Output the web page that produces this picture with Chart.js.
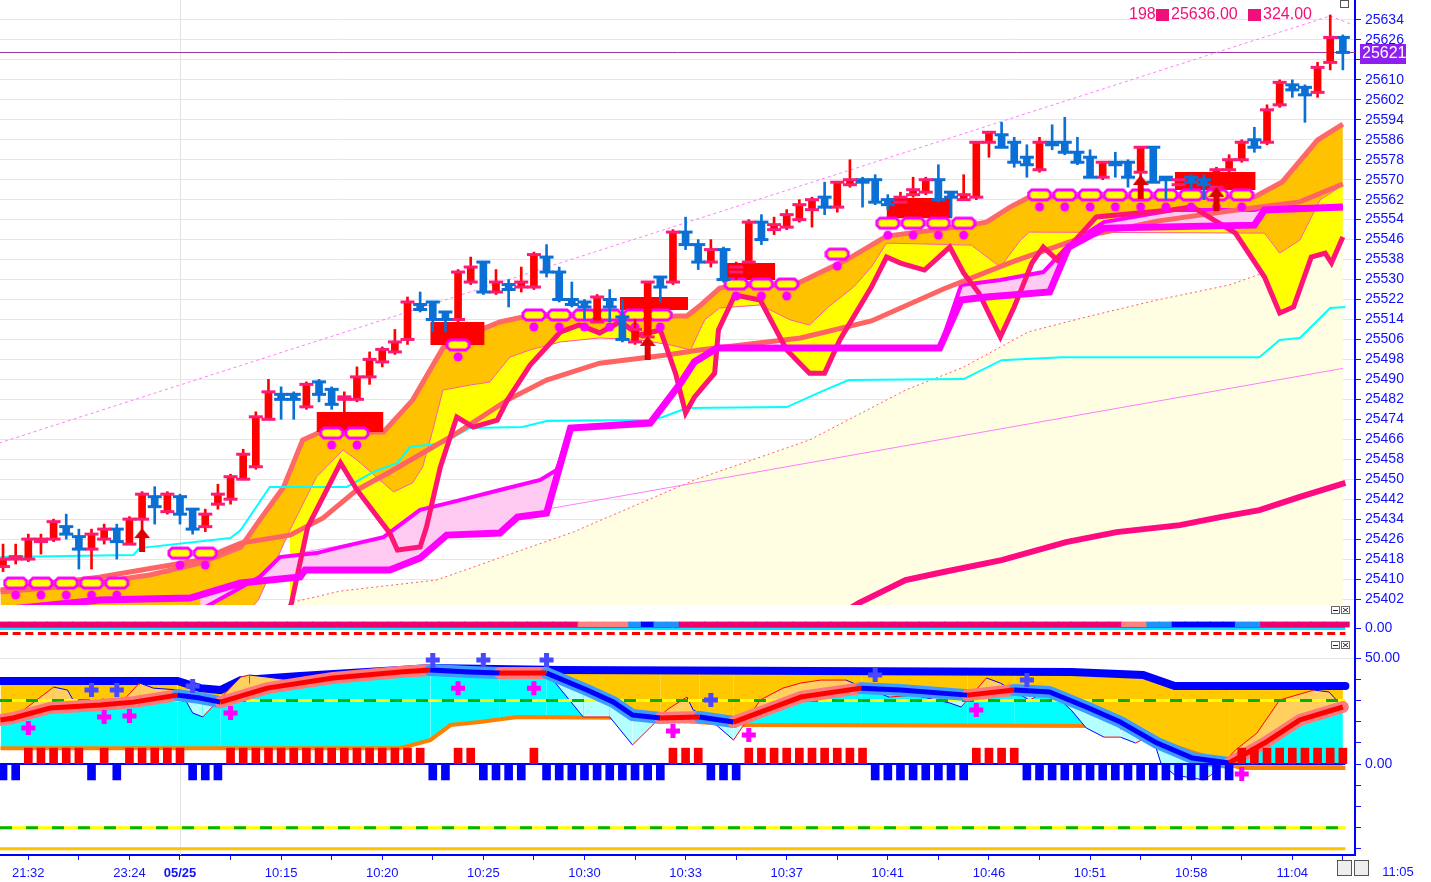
<!DOCTYPE html>
<html>
<head>
<meta charset="utf-8">
<title>Intraday chart</title>
<script src="https://cdn.jsdelivr.net/npm/chart.js@4.4.1/dist/chart.umd.min.js"></script>
<style>
  html, body { margin: 0; background: #fff; }
  #wrap { position: relative; width: 1431px; height: 882px; overflow: hidden; }
  #wrap canvas { position: absolute; left: 0; }
</style>
</head>
<body>
<div id="wrap">
  <canvas id="main" width="1431" height="605" style="top:0"></canvas>
  <canvas id="strip" width="1431" height="46" style="top:605px"></canvas>
  <canvas id="lower" width="1431" height="242" style="top:640px"></canvas>
</div>
<script>
/* ── candles (one per bar index) ───────────────────────── */
const candleOpen = [25415,25418,25418,25425,25426,25431,25427,25422,25426,25430,
  25424,25434,25443,25437,25443,25438,25431,25440,25442,25450,
  25455,25474,25484,25484,25479,25489,25486,25482,25482,25491,
  25497,25501,25506,25520,25521,25517,25514,25529,25537,25525,
  25528,25527,25527,25539,25533,25522,25521,25513,25522,25515,
  25505,25507,25531,25529,25549,25544,25537,25542,25533,25537,
  25553,25550,25551,25554,25558,25563,25559,25568,25570,25570,
  25562,25561,25564,25565,25570,25565,25562,25563,25585,25588,
  25585,25579,25574,25585,25585,25581,25579,25571,25577,25577,
  25573,25583,25571,25568,25571,25570,25567,25574,25578,25586,
  25585,25600,25608,25607,25605,25617,25627];
const candleHigh = [25424,25424,25428,25428,25434,25436,25430,25430,25432,25432,
  25435,25445,25447,25445,25444,25438,25438,25448,25452,25462,
  25477,25490,25487,25485,25489,25490,25487,25485,25495,25501,
  25503,25510,25523,25525,25521,25517,25534,25539,25537,25534,
  25530,25535,25541,25544,25535,25529,25522,25524,25526,25522,
  25514,25529,25531,25550,25555,25546,25546,25543,25537,25554,
  25556,25555,25558,25562,25563,25569,25569,25578,25571,25572,
  25564,25565,25571,25571,25576,25565,25572,25585,25589,25593,
  25587,25584,25587,25592,25595,25587,25582,25577,25581,25578,
  25583,25583,25571,25572,25572,25572,25575,25580,25586,25591,
  25600,25610,25610,25608,25617,25636,25628];
const candleLow = [25413,25416,25417,25420,25425,25426,25414,25414,25424,25418,
  25424,25428,25432,25436,25432,25428,25429,25438,25440,25450,
  25454,25474,25474,25474,25478,25481,25478,25473,25481,25488,
  25495,25500,25504,25517,25509,25509,25513,25528,25524,25524,
  25519,25525,25526,25531,25521,25519,25514,25513,25513,25505,
  25504,25506,25521,25528,25542,25534,25535,25529,25530,25536,
  25544,25548,25550,25553,25551,25556,25557,25567,25559,25560,
  25558,25559,25563,25564,25561,25555,25562,25562,25579,25583,
  25575,25571,25573,25582,25580,25576,25571,25570,25571,25567,
  25563,25569,25562,25566,25566,25562,25567,25573,25577,25581,
  25584,25599,25603,25593,25603,25614,25614];
const candleClose = [25418,25419,25426,25426,25433,25428,25422,25428,25430,25425,
  25434,25444,25439,25444,25436,25430,25436,25444,25451,25460,
  25475,25485,25482,25482,25488,25484,25480,25483,25491,25498,
  25502,25505,25521,25518,25514,25514,25533,25535,25525,25529,
  25526,25529,25540,25533,25522,25520,25519,25523,25519,25506,
  25510,25529,25527,25549,25544,25537,25542,25530,25535,25553,
  25546,25552,25556,25560,25562,25559,25569,25570,25569,25561,
  25560,25563,25566,25570,25562,25563,25564,25585,25589,25583,
  25577,25576,25585,25584,25581,25577,25571,25577,25576,25571,
  25583,25569,25570,25570,25569,25568,25574,25578,25585,25583,
  25598,25609,25606,25604,25615,25627,25621];

/* ── axis ticks ────────────────────────────────────────── */
const yTicks = [25402,25410,25418,25426,25434,25442,25450,25458,25466,25474,25482,25490,25498,25506,25514,
  25522,25530,25538,25546,25554,25562,25570,25578,25586,25594,25602,25610,25618,25626,25634];
const lowTicks = [-40,-30,-20,-10,0,10,20,30,40,50];
const lowLabels = [0, 50];
const xTickPos = [2,6,10,14,18,22,26,30,34,38,42,46,50,54,58,62,66,70,74,78,82,86,90,94,98,102,106];
const xTickText = { 2:'21:32', 10:'23:24', 14:'05/25', 22:'10:15', 30:'10:20', 38:'10:25', 46:'10:30',
  54:'10:33', 62:'10:37', 70:'10:41', 78:'10:46', 86:'10:51', 94:'10:58', 102:'11:04' };
const dayIndex = 14;
const headCount = 198, headVolume = 324;

/* ── overlay lines, [bar index, price] ─────────────────── */
const trendLine = [[-0.3,25464.5],[105.0,25635.6],[106.8,25632.0]];
const violetLine = [[-0.3,25399.2],[106.0,25494.4]];
const dotRedLine = [[21.1,25396.8],[23.0,25400.8],[26.7,25405.2],[34.3,25409.6],[39.9,25419.6],[45.1,25428.8],
  [54.7,25449.7],[63.8,25465.7],[71.4,25485.7],[76.0,25494.9],[81.1,25509.0],[85.7,25515.0],[91.3,25521.8],
  [97.0,25527.8],[102.6,25537.8],[106.0,25545.0]];
const cyanLine = [[-0.2,25418.8],[5.1,25419.2],[10.3,25419.6],[10.8,25422.4],[18.0,25426.4],[18.8,25429.6],
  [21.1,25446.9],[27.2,25446.9],[29.3,25452.9],[31.2,25456.5],[32.2,25462.9],[34.8,25464.5],[36.9,25470.5],
  [41.1,25470.9],[43.0,25473.3],[51.2,25473.7],[52.2,25474.9],[54.1,25478.5],[62.0,25478.9],[65.0,25485.7],
  [66.9,25489.7],[76.0,25490.1],[79.0,25497.7],[83.8,25498.9],[99.4,25498.9],[101.0,25505.8],[102.6,25506.6],
  [105.0,25518.6],[106.2,25519.0]];
const deepLine = [[66.2,25395.6],[67.7,25400.4],[71.4,25409.6],[74.4,25412.8],[79.0,25417.6],[84.1,25424.8],
  [88.1,25428.8],[93.1,25431.6],[96.3,25434.8],[99.4,25437.6],[102.6,25442.9],[106.2,25448.5]];
const maLine = [[-0.2,25405.6],[7.7,25410.8],[15.6,25417.6],[18.8,25424.4],[22.7,25427.6],[25.3,25434.4],
  [28.0,25445.7],[30.6,25452.9],[33.2,25460.5],[35.9,25468.5],[39.9,25481.7],[43.0,25489.7],[47.2,25496.5],
  [52.5,25499.8],[55.1,25501.8],[63.1,25506.6],[68.7,25513.4],[74.4,25526.2],[80.0,25537.4],[85.7,25547.4],
  [91.3,25553.4],[97.0,25557.5],[102.6,25561.1],[106.0,25568.3]];
const cloudTop = [[-0.2,25404.8],[6.1,25407.6],[11.6,25411.6],[15.6,25416.4],[18.8,25422.8],[20.3,25433.6],
  [22.2,25446.9],[23.7,25465.7],[25.1,25468.9],[30.1,25468.9],[32.4,25481.7],[34.8,25502.6],[36.2,25506.6],
  [39.3,25513.0],[41.5,25515.4],[54.1,25515.4],[55.1,25519.4],[56.7,25526.6],[58.1,25527.8],[62.3,25527.8],
  [63.1,25529.0],[66.7,25537.8],[69.9,25547.4],[76.0,25551.4],[77.8,25553.0],[79.7,25559.1],[81.2,25563.1],
  [99.0,25563.1],[101.2,25569.1],[104.0,25585.9],[106.0,25592.3]];
const cloudMid = [[-0.2,25397.6],[19.5,25397.6],[20.2,25401.6],[22.7,25429.6],[24.8,25450.9],[26.9,25461.7],
  [28.0,25457.7],[29.8,25449.7],[30.9,25444.9],[32.4,25448.5],[33.2,25454.9],[34.0,25469.7],[34.8,25485.7],
  [36.9,25487.7],[38.5,25488.9],[40.1,25498.9],[41.7,25501.8],[44.1,25505.0],[47.2,25506.6],[50.4,25505.8],
  [52.8,25503.8],[54.4,25501.8],[55.5,25513.8],[56.7,25518.6],[59.9,25519.8],[62.3,25513.8],[63.8,25511.8],
  [65.3,25519.0],[67.3,25527.0],[68.7,25535.0],[69.9,25544.6],[76.6,25543.8],[78.9,25535.0],[80.5,25545.8],
  [81.2,25549.0],[99.8,25548.6],[101.0,25540.6],[102.6,25545.8],[104.2,25561.9],[106.0,25567.9]];
const zigLine = [[22.7,25397.6],[24.1,25430.8],[26.7,25456.5],[28.0,25445.7],[30.6,25428.4],[31.2,25421.6],
  [33.0,25422.8],[33.5,25430.8],[34.6,25454.9],[35.9,25474.9],[37.2,25470.9],[39.1,25473.7],[39.9,25481.7],
  [41.7,25495.7],[44.1,25509.0],[45.6,25511.8],[47.2,25508.6],[48.8,25513.0],[50.4,25507.8],[52.0,25509.8],
  [53.2,25492.5],[54.0,25476.5],[54.7,25482.9],[56.3,25492.5],[56.6,25509.8],[57.9,25523.8],[59.9,25521.8],
  [62.0,25501.8],[63.8,25492.5],[65.0,25492.5],[66.2,25505.8],[68.7,25527.0],[69.9,25539.0],[71.0,25536.6],
  [72.9,25533.8],[74.9,25543.0],[76.0,25532.6],[77.2,25524.6],[78.9,25507.0],[80.0,25519.0],[81.4,25536.6],
  [82.3,25543.0],[83.4,25537.8],[86.5,25555.1],[92.4,25557.9],[94.1,25559.1],[97.5,25548.6],[99.8,25531.0],
  [101.0,25516.6],[102.1,25519.0],[103.5,25539.0],[104.6,25540.6],[105.1,25536.6],[106.0,25547.0]];
const kijunLine = [[-0.2,25397.6],[7.7,25401.6],[14.8,25402.4],[18.8,25408.4],[23.5,25410.8],[23.9,25413.6],
  [30.6,25413.6],[33.0,25418.4],[35.1,25427.6],[39.3,25428.4],[40.7,25434.8],[43.0,25436.4],[44.9,25470.5],
  [51.2,25472.5],[53.6,25488.5],[54.7,25497.0],[56.5,25502.6],[74.1,25502.6],[75.8,25521.8],[77.8,25523.0],
  [82.8,25525.0],[84.3,25543.0],[87.1,25550.6],[99.0,25551.8],[99.8,25557.9],[106.0,25559.1]];
const senkouLine = [[15.6,25397.6],[20.3,25410.8],[21.9,25418.8],[24.8,25420.4],[26.7,25422.8],[30.1,25426.8],
  [33.0,25437.7],[35.6,25440.9],[39.3,25445.7],[42.5,25449.7],[43.8,25453.7],[44.9,25470.5],[51.2,25472.5],
  [53.6,25488.5],[54.7,25497.0],[56.5,25502.6],[74.1,25502.6],[75.8,25527.8],[78.9,25529.8],[82.3,25533.0],
  [84.3,25543.8],[87.1,25553.0],[92.7,25557.9],[99.0,25557.9],[99.8,25559.1],[106.0,25559.1]];

/* zones: [from bar, to bar, low, high] */
const boxZones = [[24.8,30.1,25468.9,25476.9],[33.8,38.1,25503.8,25513.0],[48.8,54.2,25517.8,25523.0],
  [57.1,61.1,25529.8,25536.6],[69.9,75.1,25554.6,25562.7],[92.7,99.1,25565.9,25573.1]];
const ovalMarks = [[1,25408.4],[3,25408.4],[5,25408.4],[7,25408.4],[9,25408.4],[14,25420.4],[16,25420.4],
  [26,25468.5],[28,25468.5],[36,25503.8],[42,25515.8],[44,25515.8],[46,25515.8],[48,25515.8],[50,25515.8],
  [52,25515.8],[58,25528.2],[60,25528.2],[62,25528.2],[66,25540.2],[70,25552.6],[72,25552.6],[74,25552.6],
  [76,25552.6],[82,25563.9],[84,25563.9],[86,25563.9],[88,25563.9],[90,25563.9],[92,25563.9],[94,25563.9],
  [96,25563.9],[98,25563.9]];
const arrowMarks = [[11,25425.6],[51,25502.6],[90,25567.1],[96,25562.3]];

/* ── middle strip ──────────────────────────────────────── */
const stripRuns = [['P',46],['S',4],['L',1],['D',1],['L',2],['P',35],['S',2],['L',2],['D',5],['L',2],['P',7]];

/* ── lower oscillator ─────────────────────────────────── */
const upperBand = [[-0.2,39.2],[13.8,39.2],[15.6,35.8],[17.2,34.9],[18.8,39.6],[23.5,41.5],[31.4,44.3],
  [33.8,45.3],[44.1,44.3],[84.5,43.4],[90.2,42.0],[92.7,36.8],[106.2,36.8]];
const signalLine = [[-0.2,20.8],[0.8,21.7],[3.7,26.4],[7.7,27.8],[10.3,29.2],[13.8,32.5],[15.6,31.1],[17.2,29.2],
  [20.9,35.8],[26.1,40.6],[31.4,43.4],[33.8,44.3],[36.9,43.4],[39.3,42.9],[43.0,42.9],[46.2,34.9],[48.3,29.2],
  [49.8,23.1],[52.0,21.7],[55.1,22.2],[57.8,19.8],[63.1,31.6],[67.9,35.8],[71.0,34.9],[76.3,32.5],[80.0,34.9],
  [82.8,34.0],[85.7,26.9],[88.4,19.8],[91.3,9.9],[94.1,2.8],[97.0,0.5],[99.8,9.9],[102.6,20.8],[106.0,26.9]];
const fastLine = [[-0.2,19.8],[0.8,21.7],[4.0,36.3],[5.1,34.9],[5.9,26.4],[6.9,25.9],[7.9,30.7],[9.0,26.9],
  [10.8,38.2],[11.9,35.8],[14.0,34.9],[15.0,24.1],[15.8,22.2],[18.8,41.0],[19.5,42.0],[20.9,41.0],[22.7,39.6],
  [24.8,42.0],[26.1,41.0],[28.8,43.4],[31.4,44.3],[34.0,45.3],[36.7,45.8],[37.5,45.3],[39.3,42.0],[41.5,42.0],
  [43.0,43.4],[45.9,22.2],[48.0,22.2],[49.8,9.0],[51.4,18.4],[52.5,25.5],[54.1,31.6],[54.6,25.5],[55.7,22.2],
  [57.8,11.3],[59.9,30.2],[61.7,35.8],[63.1,38.2],[64.7,39.6],[66.7,39.6],[67.6,37.3],[70.1,31.6],[72.1,32.5],
  [74.9,28.8],[75.8,26.9],[77.8,40.6],[78.9,38.2],[81.2,30.2],[82.8,34.9],[84.5,25.5],[85.7,17.0],[87.1,12.7],
  [88.4,12.7],[89.6,9.9],[90.4,12.3],[91.1,9.9],[91.6,0.5],[92.7,-5.2],[95.0,-7.5],[95.8,-4.2],[97.5,6.6],
  [99.2,14.6],[101.0,30.2],[103.7,34.9],[104.9,34.0],[106.0,26.9]];
const baseLine = [[-0.2,7.5],[31.4,7.5],[33.8,11.3],[35.4,18.4],[37.7,19.8],[40.7,22.2],[50.4,21.7],[58.3,18.4],
  [87.9,17.9],[97.9,-1.9],[106.2,-1.9]];
const levelLines = [30, -30];
const floorLevel = -40;
const histRuns = [[-1,2],[1,5],[-1,1],[1,1],[-1,1],[1,5],[-1,3],[1,16],[-1,2],[1,2],[-1,4],[1,1],[-1,10],
  [1,3],[-1,3],[1,10],[-1,8],[1,4],[-1,17],[1,9]];
const histLevel = 7.5;
const buyMarks = [[2,17.0],[8,22.2],[10,22.6],[18,24.1],[36,35.8],[42,35.8],[53,15.6],[59,13.7],[77,25.5],[98,-4.7]];
const sellMarks = [[7,34.9],[9,34.9],[15,36.8],[34,49.1],[38,49.1],[43,49.1],[56,30.2],[69,42.0],[81,39.6]];

/* ── helpers ───────────────────────────────────────────── */
Chart.defaults.font.family = '"Liberation Sans", Arial, sans-serif';
const xMin = -0.24, xMax = 106.96;
const xEnd = 106.2;
const AXIS = '#1010ff';
const C_RED = '#ff0000', C_BLUE = '#0a70d6';
const bars = candleOpen.map((_, i) => i);
const isUp = i => candleClose[i] >= candleOpen[i];
const pts = a => a.map(([x, y]) => ({ x, y }));
const byDir = (up, down) => c => c.p1.parsed.y >= c.p0.parsed.y ? up : down;
const line = (data, o) => Object.assign({ type: 'line', data: pts(data), pointRadius: 0, borderWidth: 1,
  tension: 0, fill: false }, o);
const flat = (v, o) => line([[xMin, v], [xEnd, v]], o);

function ovalImage() {
  const c = document.createElement('canvas');
  c.width = 26; c.height = 36;
  const g = c.getContext('2d');
  const oct = (cx, cy, w, h, k) => {
    g.beginPath();
    g.moveTo(cx - w / 2 + k, cy - h / 2); g.lineTo(cx + w / 2 - k, cy - h / 2);
    g.lineTo(cx + w / 2, cy - h / 2 + k); g.lineTo(cx + w / 2, cy + h / 2 - k);
    g.lineTo(cx + w / 2 - k, cy + h / 2); g.lineTo(cx - w / 2 + k, cy + h / 2);
    g.lineTo(cx - w / 2, cy + h / 2 - k); g.lineTo(cx - w / 2, cy - h / 2 + k);
    g.closePath();
  };
  g.fillStyle = '#ff00ff'; oct(13, 18, 25, 13, 4); g.fill();
  g.fillStyle = '#ffff00'; oct(13, 18, 19, 7, 2); g.fill();
  g.beginPath(); g.arc(13, 30, 4.5, 0, Math.PI * 2); g.fillStyle = '#ff00ff'; g.fill();
  return c;
}
function arrowImage() {
  const c = document.createElement('canvas');
  c.width = 16; c.height = 24;
  const g = c.getContext('2d');
  g.fillStyle = '#dd0000';
  g.beginPath(); g.moveTo(0, 10); g.lineTo(8, 0); g.lineTo(16, 10); g.closePath(); g.fill();
  g.fillRect(5, 10, 6, 14);
  return c;
}
function icon(ctx, x, y, glyph) {
  ctx.fillStyle = '#fff'; ctx.fillRect(x, y, 9, 8);
  ctx.strokeStyle = '#666'; ctx.lineWidth = 1; ctx.strokeRect(x + 0.5, y + 0.5, 8, 7);
  ctx.strokeStyle = '#222'; ctx.beginPath();
  if (glyph === '-') { ctx.moveTo(x + 2, y + 4.5); ctx.lineTo(x + 7, y + 4.5); }
  else { ctx.moveTo(x + 2, y + 2); ctx.lineTo(x + 7, y + 6); ctx.moveTo(x + 7, y + 2); ctx.lineTo(x + 2, y + 6); }
  ctx.stroke();
}
const dayLine = {
  id: 'dayLine',
  beforeDatasetsDraw(chart) {
    const { ctx, chartArea: a, scales: { x } } = chart;
    const px = Math.round(x.getPixelForValue(dayIndex)) + 0.5;
    ctx.save();
    ctx.strokeStyle = '#e2e2e2'; ctx.lineWidth = 1;
    ctx.beginPath(); ctx.moveTo(px, a.top); ctx.lineTo(px, a.bottom); ctx.stroke();
    ctx.restore();
  }
};
const rightAxis = (min, max, ticks, label, grid) => ({
  position: 'right', min, max, beginAtZero: false,
  afterBuildTicks: s => { s.ticks = ticks.map(v => ({ value: v })); },
  afterFit: s => { s.width = 76; s.paddingTop = 0; s.paddingBottom = 0; },
  ticks: { color: AXIS, padding: 4, font: { size: 14 }, callback: label },
  grid: { color: grid, tickColor: AXIS, tickLength: 6 },
  border: { color: '#0000ff', width: 2 }
});
const hiddenX = { type: 'linear', min: xMin, max: xMax, offset: false, grid: { offset: false }, display: false };
const base = { responsive: false, devicePixelRatio: 1, animation: false, events: [],
  layout: { padding: 0, autoPadding: false },
  plugins: { legend: { display: false }, tooltip: { enabled: false } } };

/* ── main price panel ──────────────────────────────────── */
const m = {
  dot: line(dotRedLine, { borderColor: '#ff5a5a', borderDash: [2, 3], fill: 'start', backgroundColor: '#fffee2', order: 30 }),
  violet: line(violetLine, { borderColor: '#ff7dff', order: 29 }),
  A: line(cloudTop, { borderColor: '#ff6868', borderWidth: 5, order: 28 }),
  B: line(cloudMid, { borderColor: '#ff5aa0', borderWidth: 1, order: 27 }),
  S: line(senkouLine, { borderColor: '#ff00ff', borderWidth: 4, order: 26 }),
  cyan: line(cyanLine, { borderColor: '#00ffff', borderWidth: 2, order: 25 }),
  M: line(maLine, { borderColor: '#ff6464', borderWidth: 5, order: 24 }),
  D: line(zigLine, { borderColor: '#ff1478', borderWidth: 5, order: 23 }),
  K: line(kijunLine, { borderColor: '#ff00ff', borderWidth: 7, order: 22 }),
  deep: line(deepLine, { borderColor: '#ff0a80', borderWidth: 6, order: 21 }),
  trend: line(trendLine, { borderColor: '#ff7dff', borderDash: [3, 3], order: 20 }),
  ovals: { type: 'line', showLine: false, data: pts(ovalMarks), pointStyle: ovalImage(), pointRadius: 10, order: 12 },
  wicks: { type: 'bar', grouped: false, barThickness: 2, order: 10,
    data: bars.map(i => ({ x: i, y: [candleLow[i], candleHigh[i]] })),
    backgroundColor: c => isUp(c.dataIndex) ? C_RED : C_BLUE },
  bodies: { type: 'bar', grouped: false, barThickness: 7, order: 9,
    data: bars.map(i => ({ x: i, y: [candleOpen[i], candleClose[i]] })),
    backgroundColor: c => isUp(c.dataIndex) ? C_RED : C_BLUE },
  opens: { type: 'line', showLine: false, order: 8, data: bars.map(i => ({ x: i, y: candleOpen[i] })),
    pointStyle: 'line', pointRadius: 7, pointBorderWidth: 3,
    pointBorderColor: c => isUp(c.dataIndex) ? '#ff1a75' : C_BLUE },
  closes: { type: 'line', showLine: false, order: 7, data: bars.map(i => ({ x: i, y: candleClose[i] })),
    pointStyle: 'line', pointRadius: 7, pointBorderWidth: 3,
    pointBorderColor: c => isUp(c.dataIndex) ? '#ff1a75' : C_BLUE },
  arrows: { type: 'line', showLine: false, data: pts(arrowMarks), pointStyle: arrowImage(), pointRadius: 10, order: 6 }
};
const zoneSets = boxZones.map(([x0, x1, lo, hi]) =>
  line([[x0, hi], [x1, hi]], { borderWidth: 0, fill: { value: lo }, backgroundColor: '#ff0000', order: 15 }));
const mainSets = [m.dot, m.violet, m.A, m.B, m.S, m.cyan, m.M, m.D, m.K, m.deep, m.trend, ...zoneSets,
  m.ovals, m.wicks, m.bodies, m.opens, m.closes, m.arrows];
m.A.fill = { target: mainSets.indexOf(m.B), above: '#ffc200', below: '#ffc200' };
m.B.fill = { target: mainSets.indexOf(m.D), above: '#ffff00', below: '#ffff00' };
m.S.fill = { target: mainSets.indexOf(m.K), above: '#ffcaf2', below: '#ffcaf2' };

const lastClose = candleClose[candleClose.length - 1];
const mainExtras = {
  id: 'mainExtras',
  beforeDatasetsDraw(chart) {
    const { ctx, chartArea: a, scales: { y } } = chart;
    const py = Math.round(y.getPixelForValue(lastClose)) + 0.5;
    ctx.save();
    ctx.strokeStyle = '#9a3a9a'; ctx.lineWidth = 1;
    ctx.beginPath(); ctx.moveTo(a.left, py); ctx.lineTo(a.right, py); ctx.stroke();
    ctx.restore();
  },
  afterDraw(chart) {
    const { ctx, scales: { y } } = chart;
    const py = Math.round(y.getPixelForValue(lastClose));
    ctx.save();
    ctx.fillStyle = '#8f1ff0';
    ctx.fillRect(1360, py - 8, 46, 20);
    ctx.fillStyle = '#fff'; ctx.font = '16px "Liberation Sans"'; ctx.textBaseline = 'middle';
    ctx.fillText(String(lastClose), 1362, py + 2);
    ctx.fillStyle = '#f0107a'; ctx.font = '16px "Liberation Sans"';
    ctx.fillText(String(headCount), 1129, 15);
    ctx.fillRect(1156, 9, 13, 12);
    ctx.fillText(Math.max(...candleHigh).toFixed(2), 1171, 15);
    ctx.fillRect(1248, 9, 13, 12);
    ctx.fillText(headVolume.toFixed(2), 1263, 15);
    ctx.strokeStyle = '#555'; ctx.strokeRect(1340.5, 0.5, 8, 7);
    ctx.restore();
  }
};

new Chart(document.getElementById('main'), {
  type: 'line',
  data: { datasets: mainSets },
  options: Object.assign({}, base, {
    scales: {
      x: hiddenX,
      y: rightAxis(25399.6, 25642.0, yTicks, v => String(v), '#e6e6e6')
    }
  }),
  plugins: [dayLine, mainExtras]
});

/* ── strip panel ──────────────────────────────────────── */
const stripColor = { P: '#ee0070', S: '#ff8080', L: '#2090ff', D: '#0000ff' };
const stripState = stripRuns.flatMap(([s, n]) => Array(n).fill(s));
new Chart(document.getElementById('strip'), {
  type: 'line',
  data: { datasets: [
    { type: 'bar', grouped: false, barThickness: 13, order: 5,
      data: bars.map(i => ({ x: i, y: [0.06, 0.38] })),
      backgroundColor: stripState.map(s => stripColor[s]) },
    flat(0.03, { borderColor: '#ff00ff', order: 4 }),
    flat(-0.06, { borderColor: '#00e8ff', borderWidth: 2, order: 3 }),
    flat(-0.34, { borderColor: '#ff0000', borderWidth: 3, borderDash: [8, 4.64], order: 2 })
  ] },
  options: Object.assign({}, base, {
    scales: {
      x: hiddenX,
      y: rightAxis(-1.4375, 1.4375, [0], v => v.toFixed(2), 'rgba(0,0,0,0)')
    }
  }),
  plugins: [{ id: 'stripIcons', afterDraw(chart) {
    const ctx = chart.ctx; ctx.save(); icon(ctx, 1331, 1, '-'); icon(ctx, 1341, 1, 'x'); ctx.restore();
  } }]
});

/* ── lower oscillator panel ───────────────────────────── */
const histVals = histRuns.flatMap(([s, n]) => Array(n).fill(s * histLevel));
const lo = {
  band: line(upperBand, { borderColor: '#0000ff', borderWidth: 8, borderCapStyle: 'round', order: 20 }),
  base: line(baseLine, { borderColor: '#ff8000', borderWidth: 4, order: 19 }),
  fast: line(fastLine, { borderColor: '#0000ff', order: 18, segment: { borderColor: byDir('#ff0000', '#0000ff') } }),
  lvlY1: flat(levelLines[0], { borderColor: '#ffff00', borderWidth: 3, order: 17.6 }),
  lvlG1: flat(levelLines[0], { borderColor: '#00b400', borderWidth: 3, borderDash: [12, 14], order: 17.5 }),
  lvlY2: flat(levelLines[1], { borderColor: '#ffff00', borderWidth: 3, order: 17.6 }),
  lvlG2: flat(levelLines[1], { borderColor: '#00b400', borderWidth: 3, borderDash: [12, 14], order: 17.5 }),
  floor: flat(floorLevel, { borderColor: '#ffc000', borderWidth: 3, order: 17.4 }),
  halo: line(signalLine, { borderColor: '#ff7a7a', borderWidth: 12, borderCapStyle: 'round', borderJoinStyle: 'round',
    order: 17, segment: { borderColor: byDir('#ff7a7a', '#3c9cff') } }),
  signal: line(signalLine, { borderColor: '#ff0000', borderWidth: 5, borderJoinStyle: 'round', order: 16,
    segment: { borderColor: byDir('#ff0000', '#0000ff') } }),
  zero: flat(0, { borderColor: '#0000ff', borderWidth: 2, order: 9 }),
  hist: { type: 'bar', grouped: false, barThickness: 8, order: 5,
    data: histVals.map((v, i) => ({ x: i, y: v })),
    backgroundColor: histVals.map(v => v > 0 ? '#ff0000' : '#0000ff') },
  buy: { type: 'line', showLine: false, data: pts(buyMarks), pointStyle: 'cross', pointRadius: 7,
    pointBorderWidth: 5, pointBorderColor: '#ff00ff', order: 2 },
  sell: { type: 'line', showLine: false, data: pts(sellMarks), pointStyle: 'cross', pointRadius: 7,
    pointBorderWidth: 5, pointBorderColor: '#4848ff', order: 1 }
};
const lowSets = Object.values(lo);
const iSig = lowSets.indexOf(lo.signal);
lo.band.fill = { target: iSig, above: '#ffc800', below: '#ffc800' };
lo.base.fill = { target: iSig, above: '#c4ffff', below: '#00ffff' };
lo.fast.fill = { target: iSig, above: '#ffcf60', below: '#b4ffff' };

new Chart(document.getElementById('lower'), {
  type: 'line',
  data: { datasets: lowSets },
  options: Object.assign({}, base, {
    scales: {
      x: { type: 'linear', min: xMin, max: xMax, position: 'bottom', offset: false,
        afterBuildTicks: s => { s.ticks = xTickPos.map(v => ({ value: v })); },
        afterFit: s => { s.height = 27; s.paddingLeft = 0; s.paddingRight = 0; },
        ticks: { autoSkip: false, maxRotation: 0, padding: 6, color: AXIS,
          font: c => ({ size: 13, weight: c.tick && c.tick.value === dayIndex ? 'bold' : 'normal' }),
          callback: v => xTickText[v] || '' },
        grid: { drawOnChartArea: false, offset: false, tickLength: 5, tickColor: AXIS },
        border: { color: '#0000ff', width: 2 } },
      y: rightAxis(-42.9, 58.5, lowTicks, v => lowLabels.includes(v) ? v.toFixed(2) : '',
        c => c.tick && c.tick.value === 50 ? '#e6e6e6' : 'rgba(0,0,0,0)')
    }
  }),
  plugins: [dayLine, { id: 'lowerExtras', afterDraw(chart) {
    const ctx = chart.ctx;
    ctx.save();
    icon(ctx, 1331, 1, '-'); icon(ctx, 1341, 1, 'x');
    ctx.fillStyle = '#eee'; ctx.strokeStyle = '#555';
    ctx.fillRect(1337, 220, 14, 15); ctx.strokeRect(1337.5, 220.5, 14, 15);
    ctx.fillRect(1354, 220, 14, 15); ctx.strokeRect(1354.5, 220.5, 14, 15);
    ctx.fillStyle = AXIS; ctx.font = '13px "Liberation Sans"'; ctx.textAlign = 'center'; ctx.textBaseline = 'middle';
    ctx.fillText('11:05', 1398, 232);
    ctx.restore();
  } }]
});
</script>
</body>
</html>
